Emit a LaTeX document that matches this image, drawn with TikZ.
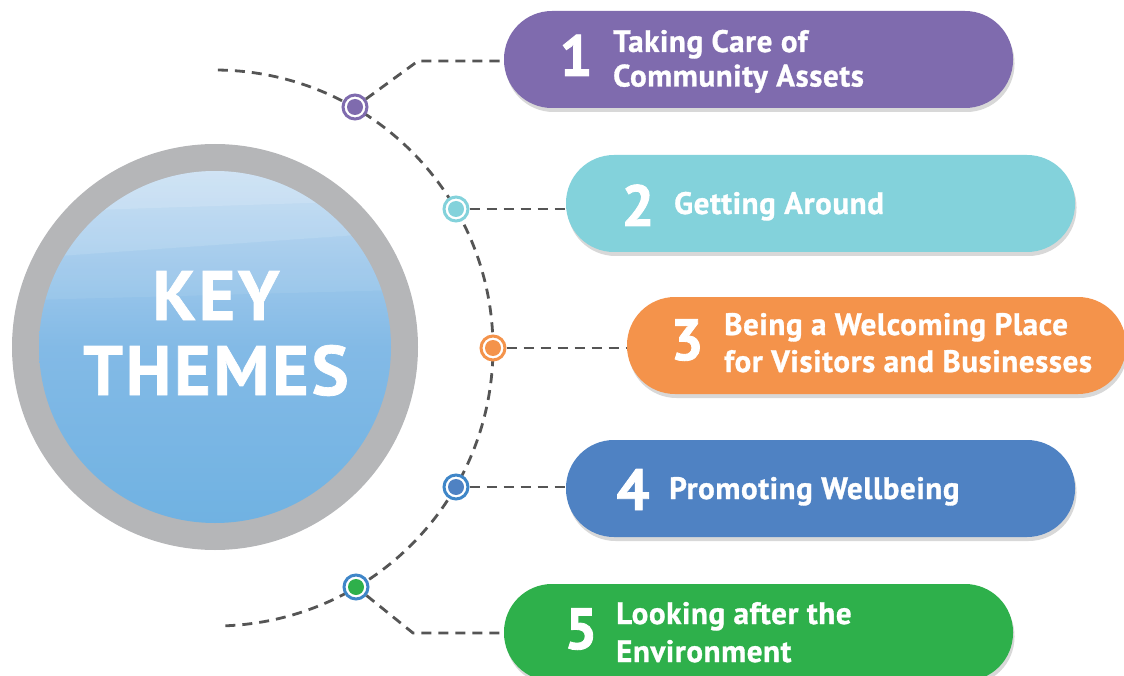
\documentclass[tikz,border=0pt]{standalone}
\usepackage{fontspec}
\setmainfont{PT Sans}
\usetikzlibrary{shadows}
\definecolor{cpurple}{HTML}{7F6BAE}
\definecolor{cteal}{HTML}{83D2DB}
\definecolor{corange}{HTML}{F4934B}
\definecolor{cblue}{HTML}{4F82C3}
\definecolor{cgreen}{HTML}{2EB04B}
\definecolor{cring}{HTML}{3F86C8}
\definecolor{cgray}{HTML}{B5B6B8}
\definecolor{dashc}{HTML}{555555}
\definecolor{bluetop}{HTML}{BCD8F1}
\definecolor{bluemid}{HTML}{83BAE6}
\definecolor{bluebot}{HTML}{70B2E2}
\begin{document}
\begin{tikzpicture}[x=1pt,y=-1pt,
  pill/.style={rectangle, inner sep=0pt, minimum height=97pt, rounded corners=48pt,
    fill=#1, draw=none,
    drop shadow={shadow xshift=1.5pt, shadow yshift=-4pt, fill=black!22, opacity=0.7}},
  dotnode/.style 2 args={circle, minimum size=24pt, inner sep=0pt, line width=3pt,
    draw=#1, fill=white,
    path picture={\fill[#2] (path picture bounding box.center) circle (8pt);}},
  conn/.style={draw=dashc, line width=2.8pt, dash pattern=on 10pt off 7pt},
  lbl/.style={anchor=base west, text=white, inner sep=0pt,
    font=\bfseries\fontsize{31}{35}\selectfont\addfontfeatures{LetterSpace=2,FakeBold=1}},
  num/.style={anchor=base, text=white, inner sep=0pt,
    font=\bfseries\fontsize{58}{60}\selectfont\addfontfeatures{FakeBold=1.5}},
  bigt/.style={anchor=base, text=white, inner sep=0pt,
    font=\bfseries\fontsize{70}{72}\selectfont\addfontfeatures{LetterSpace=4,FakeBold=1}}
]
\useasboundingbox (0,0) rectangle (1124,676);

% big circle
\fill[cgray] (215,347) circle (203pt);
\begin{scope}
  \clip (215,347) circle (176pt);
  \shade[top color=bluetop, bottom color=bluebot, middle color=bluemid]
    (39,171) rectangle (391,523);
  \fill[white, opacity=0.18] (30,160) -- (400,160) -- (400,232) -- (30,258) -- cycle;
  \fill[white, opacity=0.15] (30,160) -- (400,160) -- (400,200) -- (30,212) -- cycle;
  \fill[white, opacity=0.07] (30,258) -- (400,232) -- (400,290) -- (30,300) -- cycle;
\end{scope}
\node[bigt] (k1) at (216,320) {KEY};
\node[bigt] (k2) at (216,395) {THEMES};

% dashed arc
\draw[conn] plot[domain=-89.4:88.5, samples=120, smooth] ({215+278*cos(\x)},{348+278*sin(\x)});

% pills
\node[pill=cpurple, minimum width=509pt] (p1) at (758.5,59.5) {};
\node[pill=cteal,   minimum width=509pt] (p2) at (820.5,203.5) {};
\node[pill=corange, minimum width=499pt] (p3) at (876.5,345.5) {};
\node[pill=cblue,   minimum width=509pt] (p4) at (820.5,488.5) {};
\node[pill=cgreen,  minimum width=509pt] (p5) at (758.5,632.5) {};

% dots
\node[dotnode={cpurple}{cpurple}] (d1) at (355,107) {};
\node[dotnode={cteal}{cteal}]     (d2) at (456,209) {};
\node[dotnode={corange}{corange}] (d3) at (493,348) {};
\node[dotnode={cring}{cblue}]     (d4) at (456,487) {};
\node[dotnode={cring}{cgreen}]    (d5) at (356,587) {};

\coordinate (e1) at (418,61);
\coordinate (e5) at (413,633);

% connectors
\draw[conn] (d1) -- (e1) -- (e1 -| p1.west);
\draw[conn] (d2) -- (d2 -| p2.west);
\draw[conn] (d3) -- (d3 -| p3.west);
\draw[conn] (d4) -- (d4 -| p4.west);
\draw[conn] (d5) -- (e5) -- (e5 -| p5.west);

% numbers
\node[num] (n1) at (576,76) {1};
\node[num] (n2) at (638,226) {2};
\node[num] (n3) at (687,360) {3};
\node[num] (n4) at (633,510) {4};
\node[num] (n5) at (581,649) {5};

% labels
\node[lbl] (t1a) at (613,52) {Taking Care of};
\node[lbl] (t1b) at (613,86.5) {Community Assets};
\node[lbl] (t2)  at (674,214) {Getting Around};
\node[lbl] (t3a) at (724,335) {Being a Welcoming Place};
\node[lbl] (t3b) at (724,372) {for Visitors and Businesses};
\node[lbl] (t4)  at (669,499) {Promoting Wellbeing};
\node[lbl] (t5a) at (616,624) {Looking after the};
\node[lbl] (t5b) at (616,662) {Environment};
\end{tikzpicture}
\end{document}
